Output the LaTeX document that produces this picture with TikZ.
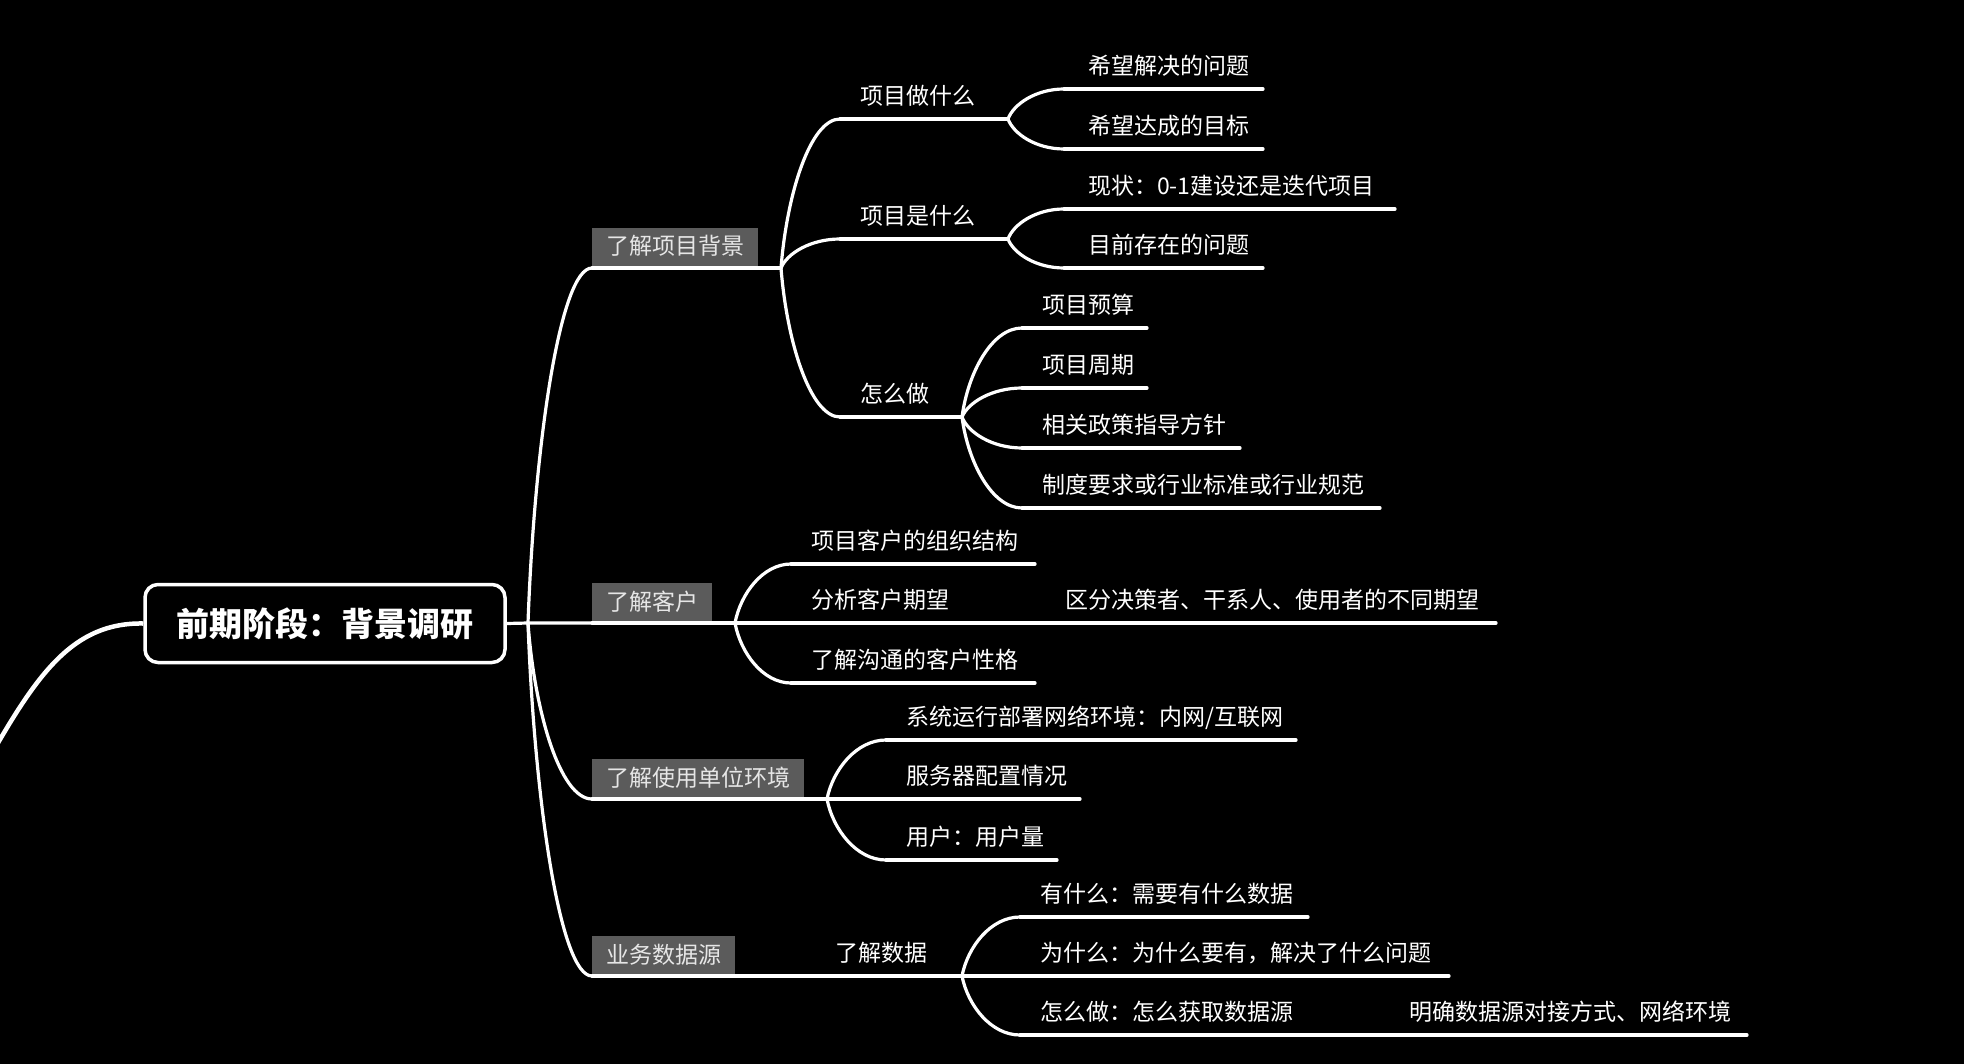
\documentclass[tikz,border=0pt]{standalone}
\usepackage{fontspec}
\setmainfont{Noto Sans CJK SC}
\usetikzlibrary{calc}
\definecolor{boxgray}{HTML}{5B5B5B}
\definecolor{boxtext}{HTML}{E6E6E6}
\newcommand\mmcurve[2]{\draw[conn] let \p1=(#1), \p2=(#2) in (\p1) .. controls ({\x1+0.1*(\x2-\x1)},{\y1+0.5*(\y2-\y1)}) and ({\x1+0.5*(\x2-\x1)},{\y2}) .. (\p2);}
\tikzset{
  conn/.style={draw=white, line width=3.2pt, line cap=round},
  uline/.style={draw=white, line width=3.2pt, line cap=round},
  lvone/.style={anchor=south west, fill=boxgray, text=boxtext, inner xsep=14pt, inner ysep=0pt, outer sep=0pt,
    text height=27pt, text depth=13pt, font=\fontsize{23}{28}\selectfont},
  topic/.style 2 args={anchor=south west, inner xsep=0pt, inner ysep=0pt, outer sep=0pt, align=left,
    text height=18pt, text depth=14.3pt, text=white, font=\fontsize{23}{28}\selectfont,
    text width=#1, execute at begin node={\hspace*{#2}}},
  rootbox/.style={draw=white, line width=3.5pt, rounded corners=13pt, minimum width=360pt, minimum height=78pt,
    inner sep=0pt, text=white, font=\fontsize{33}{40}\selectfont\bfseries}
}
\begin{document}
\begin{tikzpicture}[x=1pt,y=-1pt]
\useasboundingbox (0,0) rectangle (1964,1064);
\fill[black] (0,0) rectangle (1964,1064);
\clip (0,0) rectangle (1964,1064);

% root
\node[rootbox] (root) at (325,623.5) {\raisebox{1pt}{前期阶段：背景调研}};
\coordinate (offl) at (-40,810);
\draw[white, line width=4.5pt] (root.west) .. controls (60,622) and (25,695) .. (offl);
\coordinate (T) at (528,623);

% level 1
\node[lvone] (A) at (592,268) {了解项目背景};
\node[lvone] (B) at (592,623) {了解客户};
\node[lvone] (C) at (592,799) {了解使用单位环境};
\node[lvone] (D) at (592,976) {业务数据源};
\coordinate (JA) at ($(A.south east)+(23,0)$);
\coordinate (JB) at ($(B.south east)+(23,0)$);
\coordinate (JC) at ($(C.south east)+(23,0)$);

% level 2 / 3 under A
\node[topic={168pt}{20pt}] (A1) at (840,119) {项目做什么};
\node[topic={168pt}{20pt}] (A2) at (840,239) {项目是什么};
\node[topic={122pt}{20pt}] (A3) at (840,417) {怎么做};
\node[topic={199pt}{24pt}] (A11) at (1064,89) {希望解决的问题};
\node[topic={199pt}{24pt}] (A12) at (1064,149) {希望达成的目标};
\node[topic={331pt}{24pt}] (A21) at (1064,209) {现状：0-1建设还是迭代项目};
\node[topic={199pt}{24pt}] (A22) at (1064,268) {目前存在的问题};
\node[topic={125pt}{20pt}] (A31) at (1022,328) {项目预算};
\node[topic={125pt}{20pt}] (A32) at (1022,388) {项目周期};
\node[topic={218pt}{20pt}] (A33) at (1022,448) {相关政策指导方针};
\node[topic={358pt}{20pt}] (A34) at (1022,508) {制度要求或行业标准或行业规范};

% under B
\node[topic={244pt}{20pt}] (B1) at (791,564) {项目客户的组织结构};
\node[topic={244pt}{20pt}] (B2) at (791,623) {分析客户期望};
\node[topic={446pt}{15pt}] (B21) at (1050,623) {区分决策者、干系人、使用者的不同期望};
\node[topic={244pt}{20pt}] (B3) at (791,683) {了解沟通的客户性格};

% under C
\node[topic={410pt}{20pt}] (C1) at (886,740) {系统运行部署网络环境：内网/互联网};
\node[topic={194pt}{20pt}] (C2) at (886,799) {服务器配置情况};
\node[topic={171pt}{20pt}] (C3) at (886,860) {用户：用户量};

% under D
\node[topic={147pt}{20pt}] (D1) at (815,976) {了解数据};
\node[topic={288pt}{20pt}] (D11) at (1020,917) {有什么：需要有什么数据};
\node[topic={429pt}{20pt}] (D12) at (1020,976) {为什么：为什么要有，解决了什么问题};
\node[topic={290pt}{20pt}] (D13) at (1020,1035) {怎么做：怎么获取数据源};
\node[topic={358pt}{20pt}] (D131) at (1389,1035) {明确数据源对接方式、网络环境};

% underlines
\foreach \n in {A1,A2,A3,A11,A12,A21,A22,A31,A32,A33,A34,B1,B2,B21,B3,C1,C2,C3,D1,D11,D12,D13,D131}
  \draw[uline] (\n.south west) -- (\n.south east);

% connectors
\draw[uline] (root.east) -- (T) -- (B.south west);
\mmcurve{T}{A.south west}
\mmcurve{T}{C.south west}
\mmcurve{T}{D.south west}
\draw[uline] (A.south west) -- (JA);
\draw[uline] (B.south west) -- (JB);
\draw[uline] (C.south west) -- (JC);
\draw[uline] (D.south west) -- (D1.south west);

\mmcurve{JA}{A1.south west}
\mmcurve{JA}{A2.south west}
\mmcurve{JA}{A3.south west}
\mmcurve{A1.south east}{A11.south west}
\mmcurve{A1.south east}{A12.south west}
\mmcurve{A2.south east}{A21.south west}
\mmcurve{A2.south east}{A22.south west}
\mmcurve{A3.south east}{A31.south west}
\mmcurve{A3.south east}{A32.south west}
\mmcurve{A3.south east}{A33.south west}
\mmcurve{A3.south east}{A34.south west}

\mmcurve{JB}{B1.south west}
\draw[uline] (JB) -- (B2.south west);
\mmcurve{JB}{B3.south west}
\draw[uline] (B2.south east) -- (B21.south west);

\mmcurve{JC}{C1.south west}
\draw[uline] (JC) -- (C2.south west);
\mmcurve{JC}{C3.south west}

\mmcurve{D1.south east}{D11.south west}
\draw[uline] (D1.south east) -- (D12.south west);
\mmcurve{D1.south east}{D13.south west}
\draw[uline] (D13.south east) -- (D131.south west);
\end{tikzpicture}
\end{document}
